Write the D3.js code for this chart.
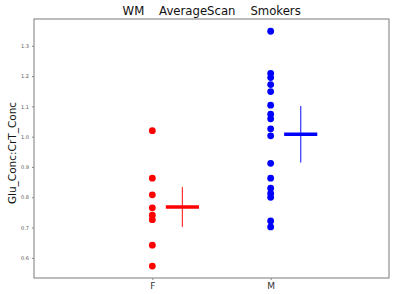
<!DOCTYPE html>
<html>
<head>
<meta charset="utf-8">
<script src="https://cdn.jsdelivr.net/npm/d3@7"></script>
<style>
  body { margin: 0; background: #fff; }
  text { font-family: "DejaVu Sans", sans-serif; }
</style>
</head>
<body>
<div id="chart"></div>
<script>
// data
const groups = ["F", "M"];
const groupColors = ["#ff0000", "#0000ff"];
const valuesF = [1.020, 0.863, 0.808, 0.765, 0.741, 0.726, 0.642, 0.573];
const valuesM = [1.348, 1.209, 1.195, 1.172, 1.149, 1.104, 1.074, 1.059, 1.026, 1.003,
                 0.912, 0.863, 0.830, 0.813, 0.800, 0.722, 0.702];
const means = [0.768, 1.008];
const errors = [0.066, 0.093];
const yTicks = [0.6, 0.7, 0.8, 0.9, 1.0, 1.1, 1.2, 1.3];

const width = 400, height = 294;
const margin = {top: 19, right: 11, bottom: 16, left: 34};

const svg = d3.select("#chart").append("svg")
    .attr("width", width)
    .attr("height", height);

const x = d3.scaleLinear()
    .domain([-1, 2])
    .range([margin.left, width - margin.right]);

const y = d3.scaleLinear()
    .domain([0.5335, 1.3885])
    .range([height - margin.bottom, margin.top]);

// frame
svg.append("rect")
    .attr("x", margin.left)
    .attr("y", margin.top)
    .attr("width", width - margin.left - margin.right)
    .attr("height", height - margin.top - margin.bottom)
    .attr("fill", "none")
    .attr("stroke", "#7a7a7a")
    .attr("stroke-width", 1);

// y axis
const yAxis = svg.append("g")
    .attr("transform", `translate(${margin.left},0)`)
    .call(d3.axisLeft(y).tickValues(yTicks).tickFormat(d3.format(".1f")).tickSize(2).tickPadding(3));
yAxis.select(".domain").remove();
yAxis.selectAll("line").attr("stroke", "#888");
yAxis.selectAll("text").attr("fill", "#555").style("font-size", "5px");

// x axis
const xAxis = svg.append("g")
    .attr("transform", `translate(0,${height - margin.bottom})`)
    .call(d3.axisBottom(x).tickValues([0, 1]).tickFormat(i => groups[i]).tickSize(2).tickPadding(3));
xAxis.select(".domain").remove();
xAxis.selectAll("line").attr("stroke", "#888");
xAxis.selectAll("text").attr("fill", "#333").style("font-size", "9px");

// points
const series = [valuesF, valuesM];
series.forEach((vals, i) => {
    svg.append("g").selectAll("circle")
        .data(vals)
        .join("circle")
        .attr("cx", x(i))
        .attr("cy", d => y(d))
        .attr("r", 3.4)
        .attr("fill", groupColors[i]);
});

// mean + error markers
const off = 0.254, half = 0.14;
groups.forEach((g, i) => {
    svg.append("line")
        .attr("x1", x(i + off)).attr("x2", x(i + off))
        .attr("y1", y(means[i] + errors[i])).attr("y2", y(means[i] - errors[i]))
        .attr("stroke", groupColors[i])
        .attr("stroke-opacity", 0.8)
        .attr("stroke-width", 1.2);
    svg.append("line")
        .attr("x1", x(i + off - half)).attr("x2", x(i + off + half))
        .attr("y1", y(means[i])).attr("y2", y(means[i]))
        .attr("stroke", groupColors[i])
        .attr("stroke-width", 3.5);
});

// title
svg.append("text")
    .attr("x", 211.7)
    .attr("y", 15.3)
    .attr("text-anchor", "middle")
    .style("font-size", "11.7px")
    .style("white-space", "pre")
    .attr("fill", "#111")
    .text("WM    AverageScan    Smokers");

// y label
svg.append("text")
    .attr("transform", "translate(16,153) rotate(-90)")
    .attr("text-anchor", "middle")
    .style("font-size", "10.5px")
    .attr("fill", "#111")
    .text("Glu_Conc:CrT_Conc");
</script>
</body>
</html>
